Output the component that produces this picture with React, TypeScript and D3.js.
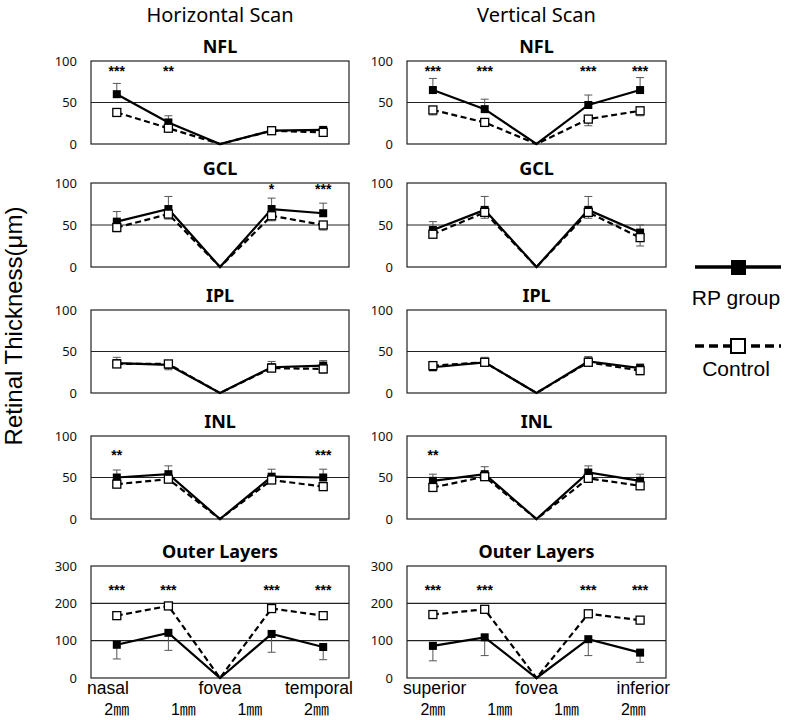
import React from 'react';
import * as d3 from 'd3';

const positions = ["p1", "p2", "fovea", "p4", "p5"];
const layers = ["NFL", "GCL", "IPL", "INL", "Outer Layers"];
const layerMax = [100, 100, 100, 100, 300];
const layerTicks = [[0, 50, 100], [0, 50, 100], [0, 50, 100], [0, 50, 100], [0, 100, 200, 300]];
const layerGrid = [[50], [50], [50], [50], [100, 200]];
const starLevel = [92, 97, 90, 81, 246];

const scanTitles = ["Horizontal Scan", "Vertical Scan"];
const hEnds = ["nasal", "fovea", "temporal"];
const vEnds = ["superior", "fovea", "inferior"];
const distLabels = ["2\u339c", "1\u339c", "1\u339c", "2\u339c"];
const legendLabels = ["RP group", "Control"];

// Horizontal scan
const hRP = [
  [60, 26, 0, 16, 17],
  [54, 69, 0, 69, 64],
  [36, 34, 0, 31, 33],
  [50, 54, 0, 51, 50],
  [89, 121, 0, 118, 83],
];
const hRPErr = [
  [13, 8, 0, 2, 2],
  [12, 15, 0, 13, 12],
  [7, 6, 0, 7, 6],
  [9, 10, 0, 9, 10],
  [38, 47, 0, 49, 34],
];
const hCtrl = [
  [38, 19, 0, 16, 14],
  [47, 63, 0, 61, 50],
  [35, 35, 0, 30, 29],
  [42, 48, 0, 47, 39],
  [167, 193, 0, 186, 167],
];
const hCtrlErr = [
  [2, 3, 0, 2, 2],
  [5, 6, 0, 6, 6],
  [4, 4, 0, 4, 5],
  [4, 4, 0, 4, 4],
  [6, 6, 0, 6, 6],
];
const hSig = [
  ["***", "**", "", "", ""],
  ["", "", "", "*", "***"],
  ["", "", "", "", ""],
  ["**", "", "", "", "***"],
  ["***", "***", "", "***", "***"],
];

// Vertical scan
const vRP = [
  [65, 42, 0, 47, 65],
  [44, 68, 0, 68, 41],
  [31, 37, 0, 38, 30],
  [46, 54, 0, 56, 46],
  [86, 109, 0, 104, 68],
];
const vRPErr = [
  [14, 12, 0, 12, 15],
  [10, 16, 0, 16, 9],
  [3, 6, 0, 6, 5],
  [8, 9, 0, 8, 8],
  [40, 49, 0, 44, 26],
];
const vCtrl = [
  [41, 26, 0, 30, 40],
  [39, 65, 0, 65, 35],
  [33, 37, 0, 37, 27],
  [38, 51, 0, 49, 40],
  [170, 184, 0, 172, 155],
];
const vCtrlErr = [
  [6, 4, 0, 8, 6],
  [4, 7, 0, 7, 10],
  [3, 3, 0, 3, 5],
  [3, 3, 0, 3, 3],
  [6, 6, 0, 6, 6],
];
const vSig = [
  ["***", "***", "", "***", "***"],
  ["", "", "", "", ""],
  ["", "", "", "", ""],
  ["**", "", "", "", ""],
  ["***", "***", "", "***", "***"],
];

const W = 787;
const H = 720;
const colX = [[91, 349], [407, 666]];
const panelTop = [61, 183, 310, 436, 566];
const panelBottom = [144, 267, 393, 519, 678];

const SANS = "'Noto Sans', sans-serif";
const ARIAL = "'Liberation Sans', Arial, sans-serif";
const DIST = "'Liberation Sans', 'Noto Sans CJK JP', sans-serif";

function Panel(props: any) {
  const { x0, x1, top, bottom, li, rp, rpErr, ctrl, ctrlErr, sig } = props;
  const x = d3.scalePoint<string>().domain(positions).range([x0, x1]).padding(0.5);
  const y = d3.scaleLinear().domain([0, layerMax[li]]).range([bottom, top]);
  const line = d3.line<number>().x((_, i) => x(positions[i]) as number).y((d) => y(d));
  const ms = 8;
  const cap = 4;
  const errBars = (vals: number[], errs: number[], other: number[], key: string) =>
    vals.map((v, i) => {
      if (errs[i] === 0) return null;
      const up = v >= other[i];
      const end = up ? v + errs[i] : v - errs[i];
      const cx = x(positions[i]) as number;
      return (
        <g key={key + i} stroke="#555" strokeWidth={1}>
          <line x1={cx} x2={cx} y1={y(v)} y2={y(end)} />
          <line x1={cx - cap} x2={cx + cap} y1={y(end)} y2={y(end)} />
        </g>
      );
    });
  return (
    <g>
      <text x={(x0 + x1) / 2} y={top - 8} textAnchor="middle" fontFamily={SANS} fontWeight="bold" fontSize={18}>
        {layers[li]}
      </text>
      {layerTicks[li].map((t) => (
        <text key={t} x={x0 - 14} y={y(t)} dy="0.35em" textAnchor="end" fontFamily={SANS} fontSize={13} fill="#111">
          {t}
        </text>
      ))}
      {layerGrid[li].map((g) => (
        <line key={g} x1={x0} x2={x1} y1={y(g)} y2={y(g)} stroke="#222" strokeWidth={1.2} />
      ))}
      <rect x={x0} y={top} width={x1 - x0} height={bottom - top} fill="none" stroke="#222" strokeWidth={1.2} />
      {sig.map((s: string, i: number) =>
        s ? (
          <text key={'s' + i} x={x(positions[i])} y={y(starLevel[li])} dy="0.6em" textAnchor="middle" fontFamily={ARIAL} fontWeight="bold" fontSize={14}>
            {s}
          </text>
        ) : null
      )}
      {errBars(rp, rpErr, ctrl, 'er')}
      <path d={line(rp) as string} fill="none" stroke="#000" strokeWidth={2.2} />
      {rp.map((v: number, i: number) =>
        v === 0 ? null : (
          <rect key={'rm' + i} x={(x(positions[i]) as number) - ms / 2} y={y(v) - ms / 2} width={ms} height={ms} fill="#000" />
        )
      )}
      {errBars(ctrl, ctrlErr, rp.map((v: number) => v + 0.0001), 'ec')}
      <path d={line(ctrl) as string} fill="none" stroke="#000" strokeWidth={2.2} strokeDasharray="6,3.5" />
      {ctrl.map((v: number, i: number) =>
        v === 0 ? null : (
          <rect key={'cm' + i} x={(x(positions[i]) as number) - ms / 2} y={y(v) - ms / 2} width={ms} height={ms} fill="#fff" stroke="#000" strokeWidth={1.3} />
        )
      )}
    </g>
  );
}

function XLabels(props: any) {
  const { x0, x1, ends } = props;
  const w = x1 - x0;
  const keys = ["a", "b", "c", "d"];
  const d = d3.scalePoint<string>().domain(keys).range([x0 + 0.1 * w, x0 + 0.874 * w]);
  return (
    <g>
      <text x={x0 - 4} y={694} textAnchor="start" fontFamily={ARIAL} fontSize={17.5}>{ends[0]}</text>
      <text x={(x0 + x1) / 2} y={694} textAnchor="middle" fontFamily={ARIAL} fontSize={17.5}>{ends[1]}</text>
      <text x={x1 + 4} y={694} textAnchor="end" fontFamily={ARIAL} fontSize={17.5}>{ends[2]}</text>
      {distLabels.map((t, i) => (
        <text key={i} x={d(keys[i])} y={715} textAnchor="middle" fontFamily={DIST} fontSize={16}>{t}</text>
      ))}
    </g>
  );
}

export default function App() {
  const scans = [
    { rp: hRP, rpErr: hRPErr, ctrl: hCtrl, ctrlErr: hCtrlErr, sig: hSig, ends: hEnds },
    { rp: vRP, rpErr: vRPErr, ctrl: vCtrl, ctrlErr: vCtrlErr, sig: vSig, ends: vEnds },
  ];
  return (
    <svg width={W} height={H} style={{ position: 'absolute', left: 0, top: 0, background: '#fff' }}>
      <rect x={0} y={0} width={W} height={H} fill="#fff" />
      {scans.map((s, c) => (
        <g key={c}>
          <text x={(colX[c][0] + colX[c][1]) / 2} y={22} textAnchor="middle" fontFamily={SANS} fontSize={20}>
            {scanTitles[c]}
          </text>
          {layers.map((_, li) => (
            <Panel
              key={li}
              x0={colX[c][0]}
              x1={colX[c][1]}
              top={panelTop[li]}
              bottom={panelBottom[li]}
              li={li}
              rp={s.rp[li]}
              rpErr={s.rpErr[li]}
              ctrl={s.ctrl[li]}
              ctrlErr={s.ctrlErr[li]}
              sig={s.sig[li]}
            />
          ))}
          <XLabels x0={colX[c][0]} x1={colX[c][1]} ends={s.ends} />
        </g>
      ))}
      <text transform="translate(22,326) rotate(-90)" textAnchor="middle" fontFamily={ARIAL} fontSize={24}>
        Retinal Thickness(μm)
      </text>
      <g>
        <line x1={695} x2={781} y1={267} y2={267} stroke="#000" strokeWidth={3.5} />
        <rect x={731} y={260} width={15} height={15} fill="#000" />
        <text x={736} y={298} dy="0.35em" textAnchor="middle" fontFamily={ARIAL} fontSize={21}>{legendLabels[0]}</text>
        <line x1={695} x2={781} y1={346} y2={346} stroke="#000" strokeWidth={3.5} strokeDasharray="9,5" />
        <rect x={731} y={339} width={14} height={14} fill="#fff" stroke="#000" strokeWidth={2} />
        <text x={736} y={369} dy="0.35em" textAnchor="middle" fontFamily={ARIAL} fontSize={21}>{legendLabels[1]}</text>
      </g>
    </svg>
  );
}
